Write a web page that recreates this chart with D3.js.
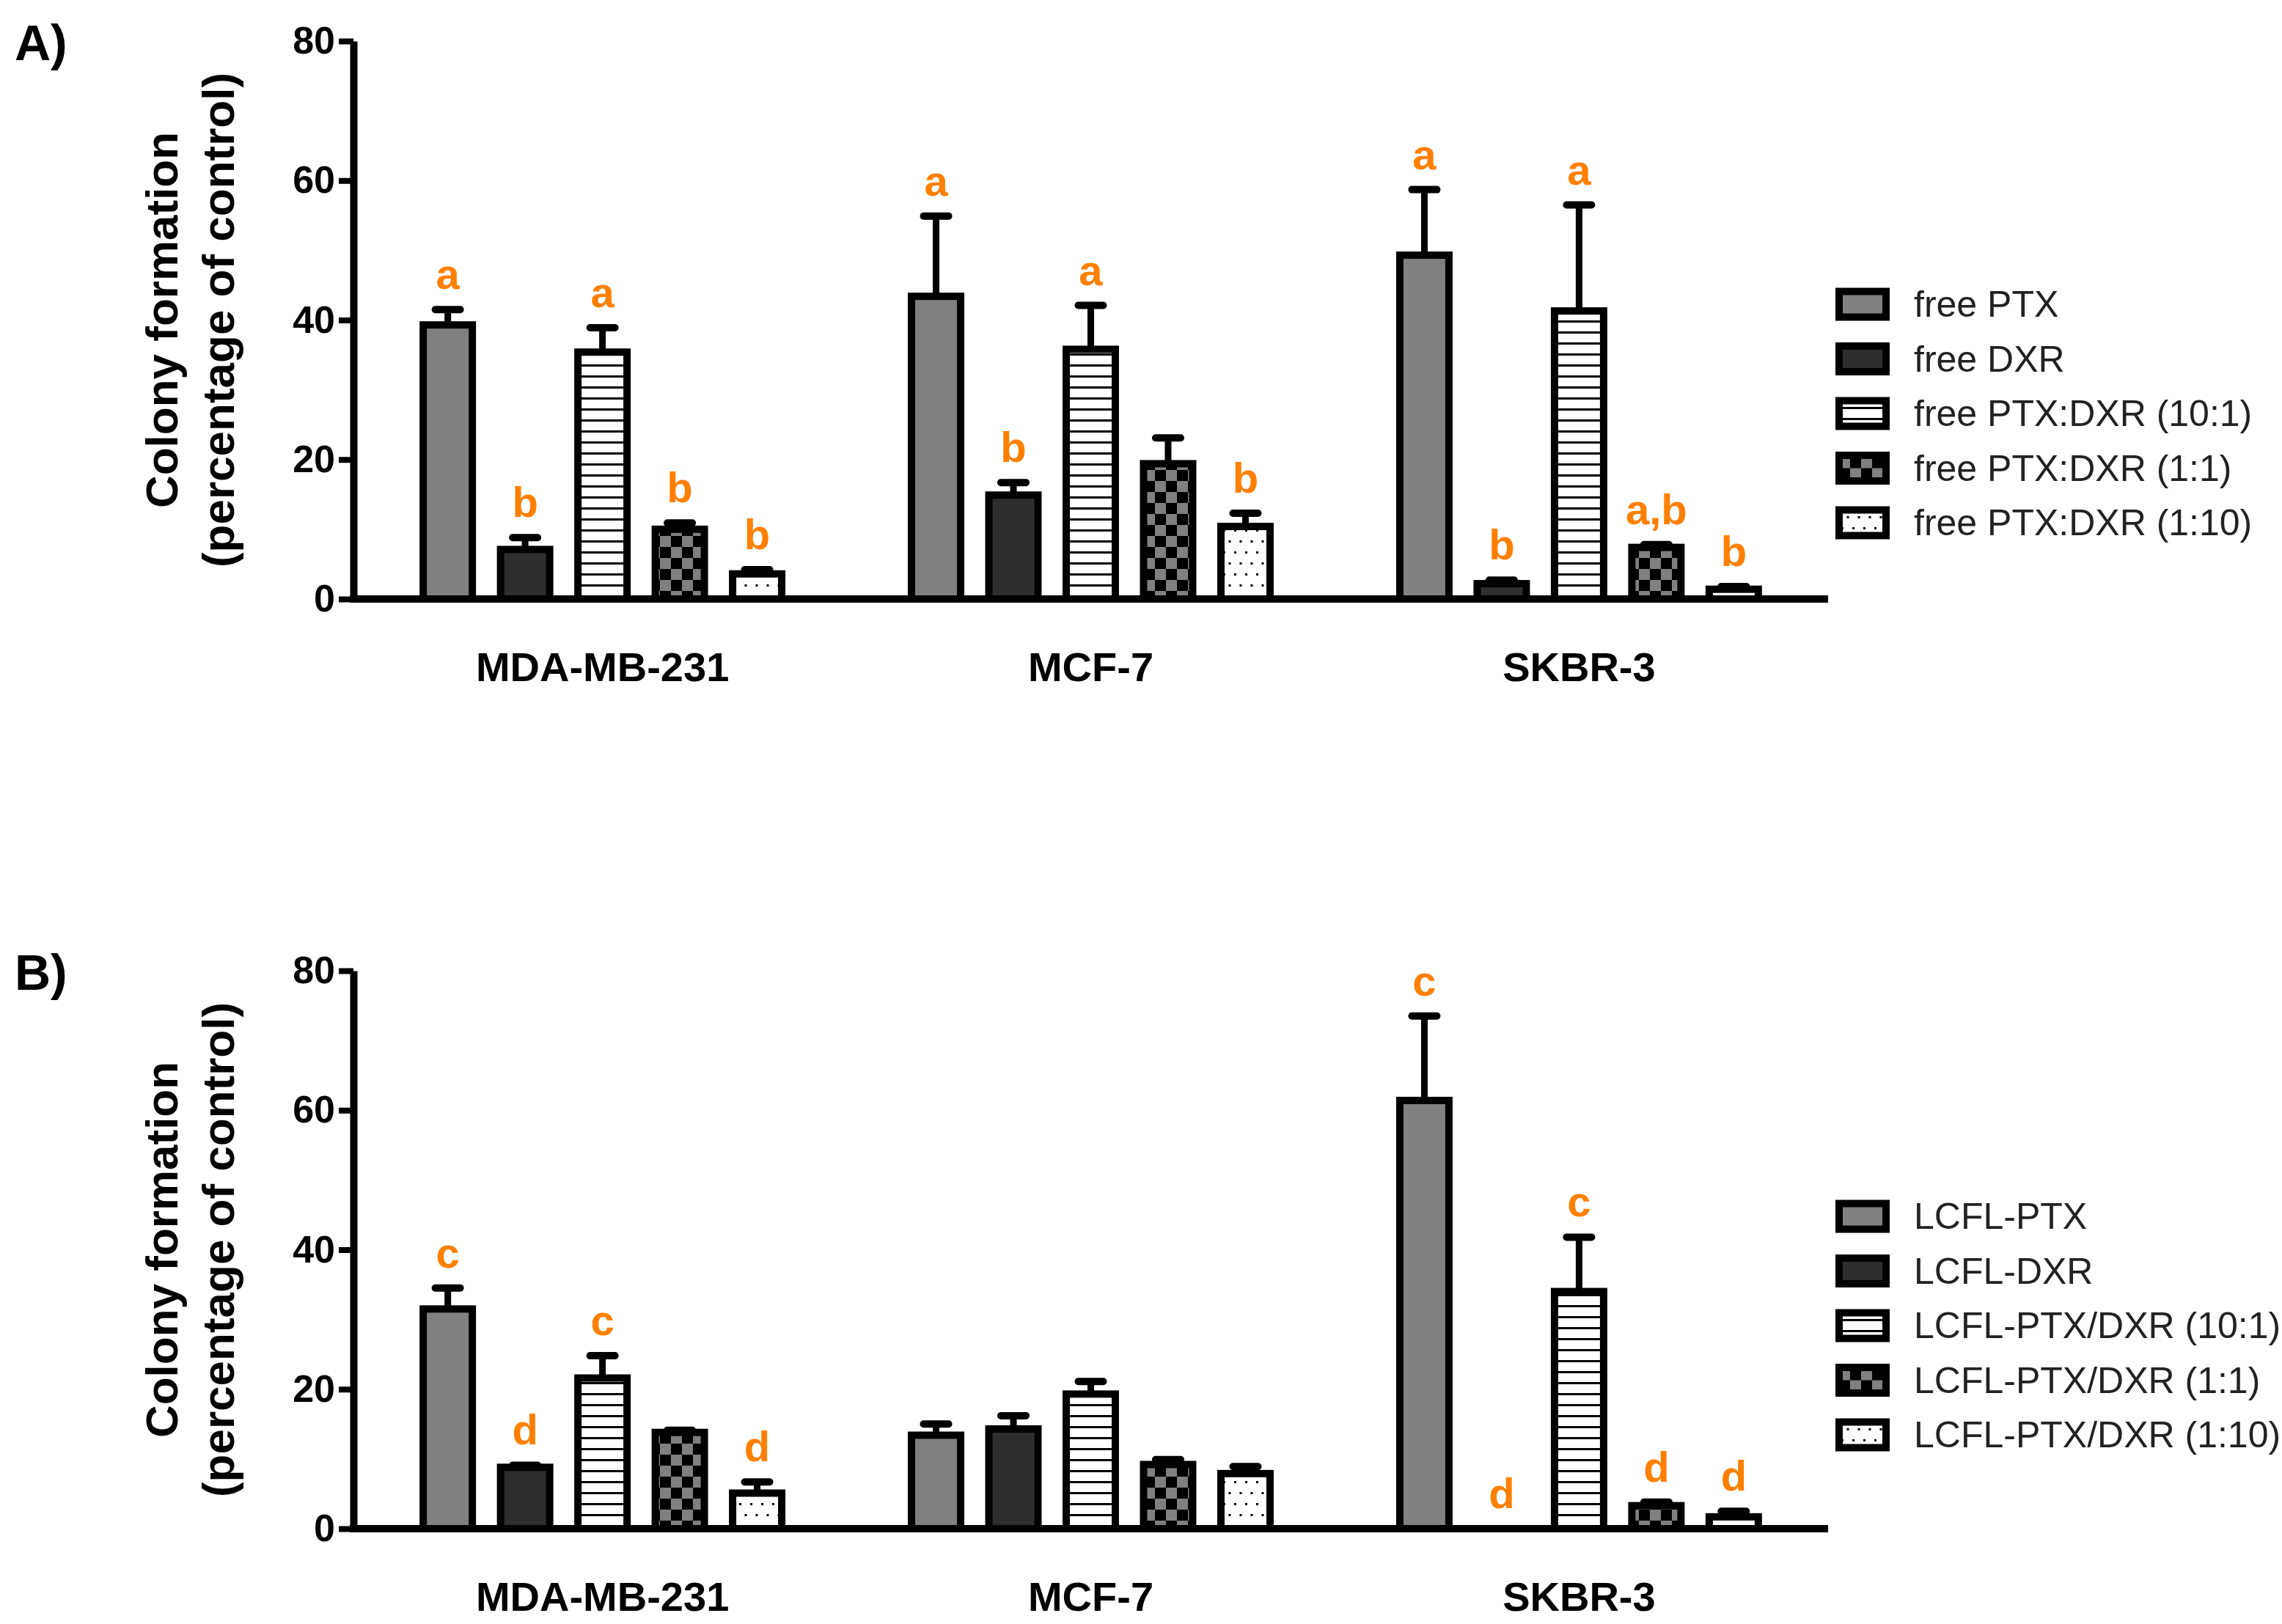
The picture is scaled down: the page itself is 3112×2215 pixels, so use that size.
<!DOCTYPE html>
<html>
<head>
<meta charset="utf-8">
<title>Colony formation</title>
<script src="https://cdn.jsdelivr.net/npm/d3@7"></script>
<style>
    body { margin: 0; background: #fff; }
    text { font-family: "Liberation Sans", Arial, sans-serif; }
</style>
</head>
<body>
<div id="chart"></div>
<script>

// values (colony formation, % of control), one row per cell line
let cellLines = ["MDA-MB-231", "MCF-7", "SKBR-3"];
let yTicks = [0, 20, 40, 60, 80];

// panel A - free drugs
let freeSeries = ["free PTX", "free DXR", "free PTX:DXR (10:1)", "free PTX:DXR (1:1)", "free PTX:DXR (1:10)"];
let freeMeans = [
    [39.3, 7.1, 35.4, 10.0, 3.6],
    [43.4, 14.9, 35.8, 19.4, 10.4],
    [49.3, 2.2, 41.3, 7.4, 1.4]
];
let freeErrors = [
    [2.2, 1.7, 3.5, 0.9, 0.6],
    [11.5, 1.8, 6.3, 3.7, 1.9],
    [9.4, 0.5, 15.2, 0.4, 0.4]
];
let freeLetters = [
    ["a", "b", "a", "b", "b"],
    ["a", "b", "a", "", "b"],
    ["a", "b", "a", "a,b", "b"]
];

// panel B - liposomal formulations
let lcflSeries = ["LCFL-PTX", "LCFL-DXR", "LCFL-PTX/DXR (10:1)", "LCFL-PTX/DXR (1:1)", "LCFL-PTX/DXR (1:10)"];
let lcflMeans = [
    [31.5, 8.8, 21.6, 13.8, 5.1],
    [13.4, 14.3, 19.3, 9.2, 7.9],
    [61.4, 0, 34.0, 3.3, 1.7]
];
let lcflErrors = [
    [3.0, 0.3, 3.2, 0.3, 1.6],
    [1.6, 1.9, 1.8, 0.7, 1.0],
    [12.1, 0, 7.8, 0.5, 0.8]
];
let lcflLetters = [
    ["c", "d", "c", "", "d"],
    ["", "", "", "", ""],
    ["c", "d", "c", "d", "d"]
];

let fills = ["#808080", "#2e2e2e", "url(#stripes)", "url(#checker)", "url(#dots)"];
let orange = "#ff8000";


class GroupedBars {

    constructor(svg, top, panelLabel, series, means, errors, letters, legendTop) {
        this.svg = svg;
        this.top = top;
        this.panelLabel = panelLabel;
        this.series = series;
        this.means = means;
        this.errors = errors;
        this.letters = letters;
        this.legendTop = legendTop;

        this.initVis();
    }

    initVis() {
        let vis = this;

        vis.left = 482;
        vis.right = 2493;
        vis.height = 761;

        vis.g = vis.svg.append("g")
            .attr("transform", "translate(0," + vis.top + ")");

        // scales
        vis.y = d3.scaleLinear()
            .domain([0, 80])
            .range([vis.height, 0]);

        vis.x0 = d3.scaleBand()
            .domain(cellLines)
            .range([vis.left, vis.right])
            .paddingInner(0)
            .paddingOuter(0.01);

        vis.x1 = d3.scaleBand()
            .domain(vis.series)
            .range([0, vis.x0.bandwidth()])
            .paddingInner(0.365)
            .paddingOuter(0.839);

        vis.wrangleData();
    }

    wrangleData() {
        let vis = this;

        vis.displayData = [];
        cellLines.forEach((cell, c) => {
            vis.series.forEach((s, i) => {
                vis.displayData.push({
                    cell: cell,
                    series: s,
                    idx: i,
                    mean: vis.means[c][i],
                    err: vis.errors[c][i],
                    letter: vis.letters[c][i]
                });
            });
        });

        vis.updateVis();
    }

    updateVis() {
        let vis = this;

        let cx = d => vis.x0(d.cell) + vis.x1(d.series) + vis.x1.bandwidth() / 2;

        // error bar stems first so the bar outline sits on top
        let withErr = vis.displayData.filter(d => d.err > 0);

        vis.g.selectAll(".err-stem")
            .data(withErr)
            .enter().append("line")
            .attr("class", "err-stem")
            .attr("x1", cx)
            .attr("x2", cx)
            .attr("y1", d => vis.y(d.mean))
            .attr("y2", d => vis.y(d.mean + d.err))
            .attr("stroke", "#000")
            .attr("stroke-width", 9);

        vis.g.selectAll(".err-cap")
            .data(withErr)
            .enter().append("line")
            .attr("class", "err-cap")
            .attr("x1", d => cx(d) - 17)
            .attr("x2", d => cx(d) + 17)
            .attr("y1", d => vis.y(d.mean + d.err))
            .attr("y2", d => vis.y(d.mean + d.err))
            .attr("stroke", "#000")
            .attr("stroke-width", 10)
            .attr("stroke-linecap", "round");

        // bars
        vis.g.selectAll(".bar")
            .data(vis.displayData.filter(d => d.mean > 0))
            .enter().append("rect")
            .attr("class", "bar")
            .attr("x", d => vis.x0(d.cell) + vis.x1(d.series))
            .attr("width", vis.x1.bandwidth())
            .attr("y", d => vis.y(d.mean))
            .attr("height", d => vis.y(0) - vis.y(d.mean))
            .attr("fill", d => fills[d.idx])
            .attr("stroke", "#000")
            .attr("stroke-width", 10);

        // significance letters
        vis.g.selectAll(".sig")
            .data(vis.displayData.filter(d => d.letter !== ""))
            .enter().append("text")
            .attr("class", "sig")
            .attr("x", cx)
            .attr("y", d => vis.y(d.mean + d.err) - 28)
            .attr("text-anchor", "middle")
            .style("font-size", "58px")
            .style("font-weight", "bold")
            .style("fill", orange)
            .text(d => d.letter);

        // axes
        let yAxis = d3.axisLeft(vis.y)
            .tickValues(yTicks)
            .tickSize(20)
            .tickSizeOuter(0)
            .tickPadding(5);

        let yG = vis.g.append("g")
            .attr("class", "y-axis")
            .attr("transform", "translate(" + vis.left + ",0)")
            .call(yAxis);
        yG.select(".domain").attr("stroke-width", 10);
        yG.selectAll(".tick line").attr("stroke-width", 8);
        yG.selectAll(".tick text")
            .attr("fill", "#000")
            .style("font-size", "52px")
            .style("font-weight", "bold");

        let xAxis = d3.axisBottom(vis.x0)
            .tickSize(0)
            .tickPadding(72);

        let xG = vis.g.append("g")
            .attr("class", "x-axis")
            .attr("transform", "translate(0," + vis.height + ")")
            .call(xAxis);
        xG.select(".domain")
            .attr("stroke-width", 10)
            .attr("d", "M" + (vis.left - 5) + ",0H" + vis.right);
        xG.selectAll(".tick text")
            .attr("fill", "#000")
            .style("font-size", "56px")
            .style("font-weight", "bold");

        // y-axis title, two lines
        let mid = vis.height / 2;
        [["Colony formation", 242], ["(percentage of control)", 319]].forEach(t => {
            vis.g.append("text")
                .attr("transform", "translate(" + t[1] + "," + mid + ") rotate(-90)")
                .attr("text-anchor", "middle")
                .style("font-size", "62px")
                .style("font-weight", "bold")
                .text(t[0]);
        });

        // panel letter
        vis.g.append("text")
            .attr("x", 20)
            .attr("y", 26)
            .style("font-size", "68px")
            .style("font-weight", "bold")
            .text(vis.panelLabel);

        // legend
        let legend = vis.svg.append("g")
            .attr("class", "legend");

        let rows = legend.selectAll(".legend-row")
            .data(vis.series)
            .enter().append("g")
            .attr("class", "legend-row")
            .attr("transform", (d, i) => "translate(2508," + (vis.legendTop + i * 74.5) + ")");

        rows.append("rect")
            .attr("x", 0)
            .attr("y", -17.5)
            .attr("width", 64)
            .attr("height", 35)
            .attr("fill", (d, i) => fills[i])
            .attr("stroke", "#000")
            .attr("stroke-width", 10);

        rows.append("text")
            .attr("x", 102)
            .attr("y", 0)
            .attr("dominant-baseline", "central")
            .style("font-size", "50px")
            .style("fill", "#222")
            .text(d => d);
    }
}


let svg = d3.select("#chart").append("svg")
    .attr("width", 3112)
    .attr("height", 2215)
    .style("display", "block")
    .style("background", "#fff");

// hatch patterns for the combination bars
let defs = svg.append("defs");

let stripes = defs.append("pattern")
    .attr("id", "stripes")
    .attr("patternUnits", "userSpaceOnUse")
    .attr("width", 15)
    .attr("height", 15);
stripes.append("rect").attr("width", 15).attr("height", 15).attr("fill", "#fff");
stripes.append("rect").attr("y", 6).attr("width", 15).attr("height", 3).attr("fill", "#000");

let checker = defs.append("pattern")
    .attr("id", "checker")
    .attr("patternUnits", "userSpaceOnUse")
    .attr("width", 30)
    .attr("height", 30);
checker.append("rect").attr("width", 30).attr("height", 30).attr("fill", "#808080");
checker.append("rect").attr("width", 15).attr("height", 15).attr("fill", "#000");
checker.append("rect").attr("x", 15).attr("y", 15).attr("width", 15).attr("height", 15).attr("fill", "#000");

let dots = defs.append("pattern")
    .attr("id", "dots")
    .attr("patternUnits", "userSpaceOnUse")
    .attr("width", 15)
    .attr("height", 30);
dots.append("rect").attr("width", 15).attr("height", 30).attr("fill", "#fff");
dots.append("rect").attr("x", 3).attr("y", 6).attr("width", 3).attr("height", 3).attr("fill", "#000");
dots.append("rect").attr("x", 10.5).attr("y", 21).attr("width", 3).attr("height", 3).attr("fill", "#000");

let panelA = new GroupedBars(svg, 56, "A)", freeSeries, freeMeans, freeErrors, freeLetters, 415);
let panelB = new GroupedBars(svg, 1324, "B)", lcflSeries, lcflMeans, lcflErrors, lcflLetters, 1659);

</script>
</body>
</html>
